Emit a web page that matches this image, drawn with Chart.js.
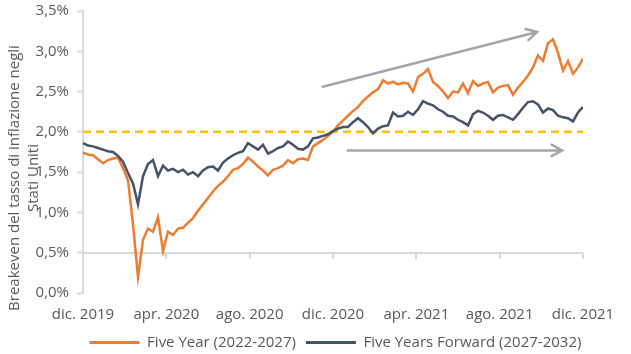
<!DOCTYPE html>
<html lang="it">
<head>
<meta charset="UTF-8">
<script src="https://cdn.jsdelivr.net/npm/chart.js"></script>
<title>Breakeven inflazione USA</title>
<style>
  html, body { margin: 0; padding: 0; background: #fff; }
</style>
</head>
<body>
<canvas id="breakeven" width="631" height="354"></canvas>
<script>
    // x axis labels, one every 4 months starting dic. 2019
    const tickLabels = ['dic. 2019', 'apr. 2020', 'ago. 2020', 'dic. 2020', 'apr. 2021', 'ago. 2021', 'dic. 2021'];

    // breakeven values (%), evenly spaced from dic. 2019 to dic. 2021
    const fiveYear = [
        1.74, 1.72, 1.71, 1.66, 1.61, 1.65, 1.67, 1.68, 1.55, 1.40,
        0.85, 0.20, 0.66, 0.80, 0.76, 0.94, 0.52, 0.76, 0.72, 0.80,
        0.81, 0.87, 0.93, 1.02, 1.10, 1.18, 1.26, 1.33, 1.38, 1.45,
        1.53, 1.55, 1.60, 1.68, 1.63, 1.57, 1.52, 1.46, 1.53, 1.55,
        1.58, 1.65, 1.61, 1.66, 1.67, 1.65, 1.82, 1.86, 1.90, 1.95,
        2.00, 2.08, 2.14, 2.20, 2.26, 2.31, 2.38, 2.44, 2.49, 2.53,
        2.64, 2.60, 2.62, 2.59, 2.61, 2.60, 2.50, 2.68, 2.72, 2.78,
        2.62, 2.57, 2.50, 2.42, 2.50, 2.49, 2.60, 2.48, 2.63, 2.57,
        2.60, 2.62, 2.49, 2.55, 2.57, 2.58, 2.46, 2.55, 2.62, 2.70,
        2.80, 2.95, 2.88, 3.10, 3.15, 2.98, 2.76, 2.88, 2.72, 2.80,
        2.91
    ];
    const fiveYearsForward = [
        1.86, 1.83, 1.82, 1.80, 1.78, 1.76, 1.75, 1.70, 1.63, 1.49,
        1.36, 1.10, 1.45, 1.60, 1.65, 1.45, 1.58, 1.52, 1.54, 1.50,
        1.53, 1.47, 1.50, 1.45, 1.52, 1.56, 1.57, 1.52, 1.62, 1.67,
        1.71, 1.74, 1.76, 1.86, 1.82, 1.78, 1.84, 1.73, 1.76, 1.80,
        1.82, 1.88, 1.84, 1.79, 1.78, 1.82, 1.92, 1.93, 1.95, 1.97,
        2.01, 2.04, 2.06, 2.06, 2.12, 2.17, 2.12, 2.06, 1.98, 2.04,
        2.07, 2.08, 2.24, 2.19, 2.20, 2.25, 2.21, 2.28, 2.38, 2.35,
        2.33, 2.28, 2.25, 2.20, 2.19, 2.15, 2.12, 2.08, 2.22, 2.26,
        2.24, 2.20, 2.15, 2.20, 2.21, 2.18, 2.15, 2.22, 2.30, 2.37,
        2.38, 2.34, 2.24, 2.29, 2.27, 2.20, 2.18, 2.17, 2.13, 2.24,
        2.31
    ];
    const target = 2.0;

    // trend arrows: [months from dic. 2019, %]
    const arrowStart = [[11.5, 2.56], [12.7, 1.77]];
    const arrowEnd = [[21.8, 3.24], [23.0, 1.77]];

    const monthsSpan = 24;
    const step = monthsSpan / (fiveYear.length - 1);

    function toPoints(values) {
        return values.map(function (v, i) { return { x: i * step, y: v }; });
    }

    const txtColor = '#595959';
    const axisColor = '#d9d9d9';
    Chart.defaults.font.family = "'Open Sans', sans-serif";
    Chart.defaults.font.size = 15;
    Chart.defaults.color = txtColor;

    const decorations = {
        id: 'decorations',
        afterUpdate(chart) {
            // legend sits centred under the plot, a bit lower
            const lg = chart.legend;
            lg.left += 44; lg.right += 44;
            lg.top += 1; lg.bottom += 1;
        },
        beforeDatasetsDraw(chart) {
            // category axis crosses at 0,5% with ticks hanging below it
            const ctx = chart.ctx;
            const xs = chart.scales.x, ys = chart.scales.y;
            const yAxis = Math.round(ys.getPixelForValue(0.5));
            ctx.save();
            ctx.strokeStyle = axisColor;
            ctx.lineWidth = 2;
            ctx.beginPath();
            ctx.moveTo(xs.left, yAxis);
            ctx.lineTo(xs.right, yAxis);
            xs.ticks.forEach(function (t) {
                const px = Math.round(xs.getPixelForValue(t.value));
                ctx.moveTo(px, yAxis);
                ctx.lineTo(px, yAxis + 6);
            });
            ctx.stroke();
            ctx.restore();
        },
        afterDatasetsDraw(chart) {
            const ctx = chart.ctx;
            const xs = chart.scales.x, ys = chart.scales.y;
            ctx.save();
            ctx.strokeStyle = '#a6a6a6';
            ctx.lineWidth = 2.5;
            ctx.lineCap = 'round';
            for (let i = 0; i < arrowStart.length; i++) {
                const x1 = xs.getPixelForValue(arrowStart[i][0]), y1 = ys.getPixelForValue(arrowStart[i][1]);
                const x2 = xs.getPixelForValue(arrowEnd[i][0]), y2 = ys.getPixelForValue(arrowEnd[i][1]);
                const a = Math.atan2(y2 - y1, x2 - x1);
                ctx.beginPath();
                ctx.moveTo(x1, y1);
                ctx.lineTo(x2, y2);
                ctx.moveTo(x2 - 12 * Math.cos(a - 0.5), y2 - 12 * Math.sin(a - 0.5));
                ctx.lineTo(x2, y2);
                ctx.lineTo(x2 - 12 * Math.cos(a + 0.5), y2 - 12 * Math.sin(a + 0.5));
                ctx.stroke();
            }
            ctx.restore();
        },
        afterDraw(chart) {
            const ctx = chart.ctx;
            ctx.save();
            ctx.fillStyle = txtColor;
            ctx.font = "15px 'Open Sans', sans-serif";
            ctx.textAlign = 'center';
            ctx.textBaseline = 'middle';
            ctx.translate(15, 178);
            ctx.rotate(-Math.PI / 2);
            ctx.fillText('Breakeven del tasso di inflazione negli', 0, 0);
            ctx.fillText('Stati Uniti', 0, 19);
            ctx.restore();
        }
    };

    let breakeven = new Chart(document.getElementById('breakeven').getContext('2d'), {
        type: 'line',
        data: {
            datasets: [{
                label: 'Five Year (2022-2027)',
                data: toPoints(fiveYear),
                borderColor: '#ED7D31',
                backgroundColor: '#ED7D31',
                borderWidth: 2.5,
                pointRadius: 0,
                order: 2
            }, {
                label: 'Five Years Forward (2027-2032)',
                data: toPoints(fiveYearsForward),
                borderColor: '#44546A',
                backgroundColor: '#44546A',
                borderWidth: 2.5,
                pointRadius: 0,
                order: 1
            }, {
                label: 'target',
                data: [{ x: 0, y: target }, { x: monthsSpan, y: target }],
                borderColor: '#FFC000',
                borderWidth: 2.5,
                borderDash: [8, 5],
                pointRadius: 0,
                order: 3
            }]
        },
        options: {
            responsive: false,
            animation: false,
            layout: { padding: { top: 11, right: 48, bottom: 0, left: 0 } },
            scales: {
                x: {
                    type: 'linear',
                    min: 0,
                    max: monthsSpan,
                    border: { display: false },
                    grid: { display: false, drawTicks: false },
                    ticks: {
                        stepSize: 4,
                        padding: 13,
                        maxRotation: 0,
                        autoSkip: false,
                        callback: function (v) { return tickLabels[Math.round(v / 4)]; }
                    },
                    afterFit: function (s) { s.paddingLeft = 0; s.paddingRight = 0; s.height = 31; }
                },
                y: {
                    min: 0,
                    max: 3.5,
                    border: { color: axisColor, width: 2 },
                    grid: {
                        drawOnChartArea: false,
                        tickColor: axisColor,
                        tickWidth: 2,
                        tickLength: 6
                    },
                    ticks: {
                        stepSize: 0.5,
                        padding: 8,
                        callback: function (v) { return v.toFixed(1).replace('.', ',') + '%'; }
                    },
                    afterFit: function (s) { s.width = 83; s.paddingTop = 0; s.paddingBottom = 0; }
                }
            },
            plugins: {
                tooltip: { enabled: false },
                legend: {
                    position: 'bottom',
                    maxHeight: 30,
                    labels: {
                        boxWidth: 50,
                        boxHeight: 3,
                        padding: 10,
                        color: txtColor,
                        generateLabels: function (chart) {
                            return Chart.defaults.plugins.legend.labels.generateLabels(chart)
                                .filter(function (it) { return it.datasetIndex < 2; })
                                .sort(function (a, b) { return a.datasetIndex - b.datasetIndex; })
                                .map(function (it) { it.lineWidth = 0; return it; });
                        }
                    }
                }
            }
        },
        plugins: [decorations]
    });
</script>
</body>
</html>
